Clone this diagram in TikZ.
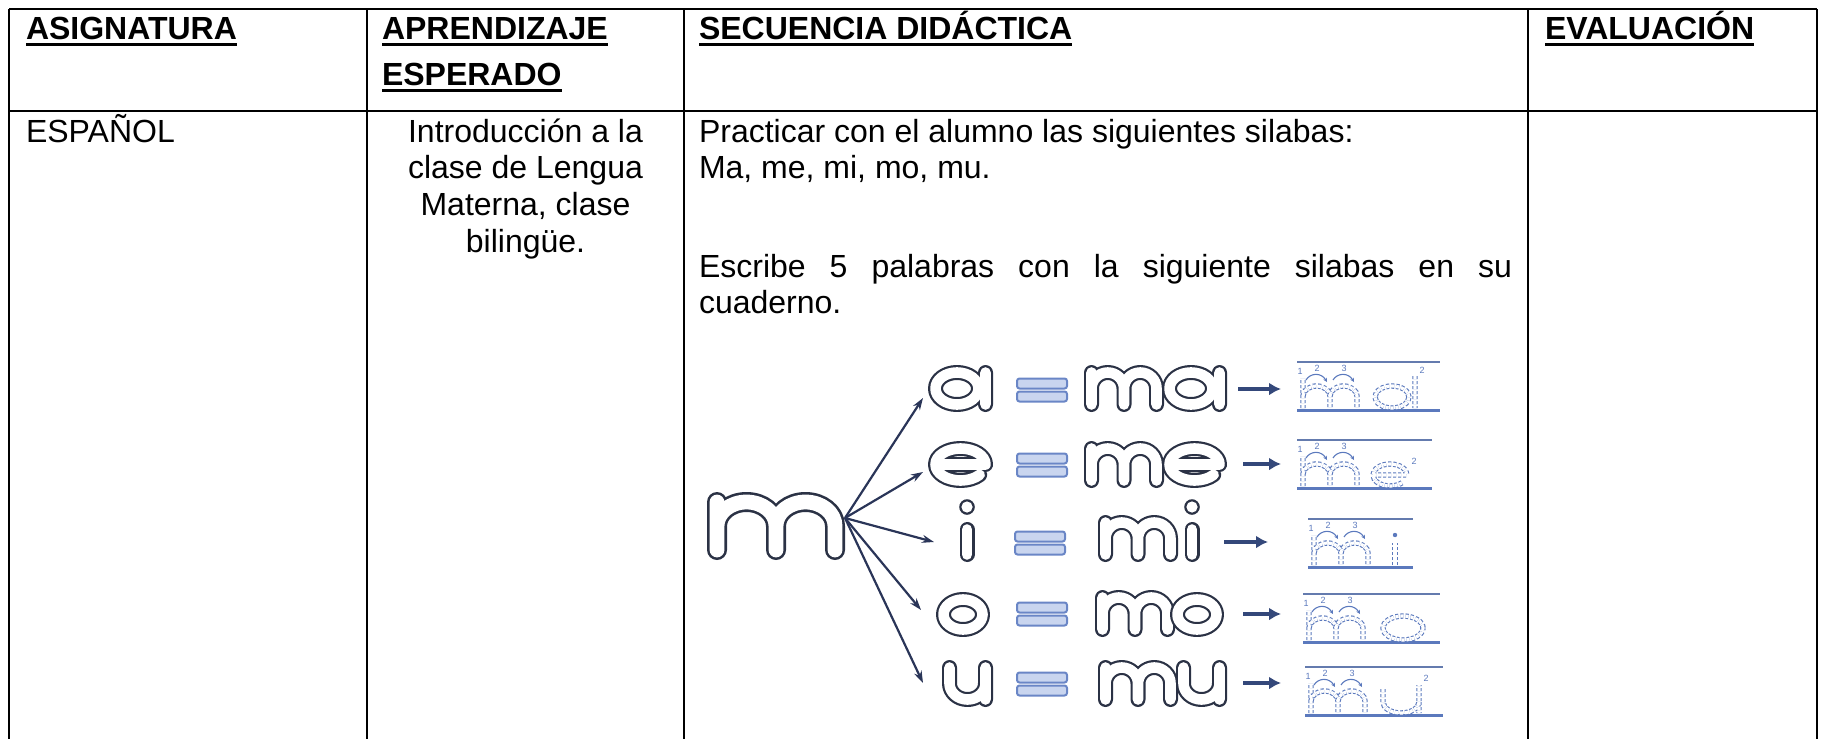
\documentclass[tikz,border=0pt]{standalone}
\usepackage{fontspec}
\setmainfont{Liberation Sans}
\usetikzlibrary{arrows.meta}
\definecolor{letterline}{HTML}{2B3245}
\definecolor{eqline}{HTML}{6A86C6}
\definecolor{eqfill}{HTML}{C9D5EF}
\definecolor{arrowc}{HTML}{2A3558}
\definecolor{rowarrow}{HTML}{34487A}
\definecolor{traceblue}{HTML}{5B79BD}
\tikzset{
 txt/.style={font=\fontsize{32}{36.8}\selectfont, inner sep=0pt, outer sep=0pt, anchor=base west},
 hd/.style={txt, font=\fontsize{32}{36.8}\selectfont\bfseries},
 ctr/.style={txt, anchor=base},
 tline/.style={line width=2.8pt, black},
 uline/.style={line width=3pt, black},
 bubsmall/.style={draw=letterline, line width=2.2pt, double=white, double distance=10.6pt, line cap=round, line join=round},
 bubbig/.style={draw=letterline, line width=2.6pt, double=white, double distance=14.8pt, line cap=round, line join=round},
 bubstroke/.style={bubsmall},
 marrow/.style={draw=arrowc, line width=2.2pt, -{Stealth[length=12pt,width=8pt]}},
 rarrow/.style={draw=rowarrow, line width=4pt, -{Latex[length=12pt,width=13pt]}},
 eqbar/.style={draw=eqline, fill=eqfill, line width=2pt, rounded corners=2.5pt},
 tracedash/.style={draw=traceblue, dash pattern=on 3pt off 2pt, line width=1.1pt, double=white, double distance=3.2pt},
 tracerule/.style={draw=traceblue, line width=3pt},
 tracetop/.style={draw=traceblue!75!gray, line width=2pt},
 tracearr/.style={draw=traceblue, line width=1.1pt, -{Stealth[length=4pt,width=4pt]}},
 tnum/.style={font=\fontsize{9}{9}\selectfont, text=traceblue, inner sep=0pt},
 pa/.pic={\begin{scope}[yscale=-1]\draw[bubstroke] (29,23.5) ellipse[x radius=21.5,y radius=16] (57.5,39.5) -- (57.5,7.5);\end{scope}},
 pe/.pic={\begin{scope}[yscale=-1]\draw[bubstroke] (7.5,23.5) -- (57.5,23.5) arc[start angle=0,end angle=320,x radius=25,y radius=16];\end{scope}},
 pi/.pic={\begin{scope}[yscale=-1]\draw[bubstroke] (12,7.5) -- (12,32.5); \draw[bubstroke] (12,55) circle[radius=0.3];\end{scope}},
 po/.pic={\begin{scope}[yscale=-1]\draw[bubstroke] (27,22.5) ellipse[x radius=19.5,y radius=15];\end{scope}},
 pu/.pic={\begin{scope}[yscale=-1]\draw[bubstroke] (7.5,39.5) -- (7.5,23.5) arc[start angle=180,end angle=360,x radius=18,y radius=16] -- (43.5,39.5) (43.5,23.5) -- (43.5,7.5);\end{scope}},
 pm/.pic={\begin{scope}[yscale=-1]\draw[bubstroke] (7.5,39.5) -- (7.5,7.5) (7.5,23.5) arc[start angle=180,end angle=0,x radius=16.25,y radius=16] -- (40,7.5) (40,23.5) arc[start angle=180,end angle=0,x radius=16.25,y radius=16] -- (72.5,7.5);\end{scope}},
 pbigm/.pic={\begin{scope}[yscale=-1]\draw[bubstroke] (10,58) -- (10,10) (10,34) arc[start angle=180,end angle=0,x radius=29.5,y radius=24] -- (69,10) (69,34) arc[start angle=180,end angle=0,x radius=29.5,y radius=24] -- (128,10);\end{scope}},
 eqs/.pic={\draw[eqbar] (0,-11.5) rectangle (50,-1.5); \draw[eqbar] (0,1.5) rectangle (50,11.5);},
}
\newcommand{\trMpart}{%
 \draw[tracedash] (6,2) -- (6,32) (6,14) arc[start angle=180,end angle=0,x radius=13.5,y radius=10] -- (33,2) (33,14) arc[start angle=180,end angle=0,x radius=13.5,y radius=10] -- (60,2);
 \draw[tracearr] (9,30) .. controls (13,37) and (24,38) .. (30,28);
 \draw[tracearr] (36,30) .. controls (40,37) and (51,38) .. (57,28);
 \node[tnum] (n1) at (3,39) {1};
 \node[tnum] (n2) at (20,42) {2};
 \node[tnum] (n3) at (47,42) {3};
}
\tikzset{
 trma/.pic={\begin{scope}[yscale=-1]\draw[tracetop] (0,48) -- (143,48); \draw[tracerule] (0,0) -- (143,0); \trMpart \draw[tracedash] (95,13) ellipse[x radius=17,y radius=11] (118,34) -- (118,2); \node[tnum] (n4) at (125,40) {2};\end{scope}},
 trme/.pic={\begin{scope}[yscale=-1]\draw[tracetop] (0,48) -- (135,48); \draw[tracerule] (0,0) -- (135,0); \trMpart \draw[tracedash] (76,13) -- (110,13) arc[start angle=0,end angle=320,x radius=17,y radius=11]; \node[tnum] (n4) at (117,27) {2};\end{scope}},
 trmi/.pic={\begin{scope}[yscale=-1]\draw[tracetop] (0,48) -- (105,48); \draw[tracerule] (0,0) -- (105,0); \trMpart \draw[tracedash] (87,2) -- (87,24); \fill[traceblue] (87,32) circle[radius=2.2];\end{scope}},
 trmo/.pic={\begin{scope}[yscale=-1]\draw[tracetop] (0,48) -- (137,48); \draw[tracerule] (0,0) -- (137,0); \trMpart \draw[tracedash] (100,14) ellipse[x radius=20,y radius=12];\end{scope}},
 trmu/.pic={\begin{scope}[yscale=-1]\draw[tracetop] (0,48) -- (138,48); \draw[tracerule] (0,0) -- (138,0); \trMpart \draw[tracedash] (78,26) -- (78,13) arc[start angle=180,end angle=360,x radius=18,y radius=11] -- (114,30) (114,13) -- (114,2); \node[tnum] (n4) at (121,37) {2};\end{scope}},
}
\begin{document}
\begin{tikzpicture}[x=1pt,y=-1pt]
\useasboundingbox (0,0) rectangle (1825,739);
% table rules
\draw[tline] (9,9) -- (1817,9);
\draw[tline] (9,111) -- (1817,111);
\draw[tline] (9,9) -- (9,739);
\draw[tline] (367,9) -- (367,739);
\draw[tline] (684,9) -- (684,739);
\draw[tline] (1528,9) -- (1528,739);
\draw[tline] (1817,9) -- (1817,739);
% headers
\node[hd] (h1) at (26,39) {ASIGNATURA};
\node[hd] (h2a) at (382,39) {APRENDIZAJE};
\node[hd] (h2b) at (382,85) {ESPERADO};
\node[hd] (h3) at (699,39) {SECUENCIA DIDÁCTICA};
\node[hd] (h4) at (1545,39) {EVALUACIÓN};
\foreach \n in {h1,h2a,h2b,h3,h4}{\draw[uline] ([yshift=-5pt]\n.base west) -- ([yshift=-5pt]\n.base east);}
% body
\node[txt] (b1) at (26,142) {ESPAÑOL};
\node[ctr] (c2a) at (525.5,142) {Introducción a la};
\node[ctr] (c2b) at (525.5,178.8) {clase de Lengua};
\node[ctr] (c2c) at (525.5,215.6) {Materna, clase};
\node[ctr] (c2d) at (525.5,252.4) {bilingüe.};
\node[txt] (c3a) at (699,142) {Practicar con el alumno las siguientes silabas:};
\node[txt] (c3b) at (699,178.8) {Ma, me, mi, mo, mu.};
\node[txt] (c3c) at (699,277) {\makebox[813pt][s]{Escribe 5 palabras con la siguiente silabas en su}};
\node[txt] (c3d) at (699,313.8) {cuaderno.};
% big m
\pic[bubstroke/.style=bubbig] (bigm) at (707,560) {pbigm};
% vowels
\pic (va) at (928,412) {pa};
\pic (ve) at (928,488) {pe};
\pic (vi) at (955,562) {pi};
\pic (vo) at (936,637) {po};
\pic (vu) at (942,707) {pu};
% arrows from m
\coordinate (mo) at (845,518);
\coordinate (ta) at (923,398);
\coordinate (te) at (923,472);
\coordinate (ti) at (934,542);
\coordinate (to) at (921,610);
\coordinate (tu) at (923,683);
\foreach \t in {ta,te,ti,to,tu}{\draw[marrow] (mo) -- (\t);}
% equals
\pic (ea) at (1017,390) {eqs};
\pic (ee) at (1017,465) {eqs};
\pic (ei) at (1015,543) {eqs};
\pic (eo) at (1017,614) {eqs};
\pic (eu) at (1017,684) {eqs};
% syllables
\pic (sma1) at (1084,412) {pm};
\pic (sma2) at (1162,412) {pa};
\pic (sme1) at (1084,488) {pm};
\pic (sme2) at (1162,488) {pe};
\pic (smi1) at (1098,562) {pm};
\pic (smi2) at (1180,562) {pi};
\pic (smo1) at (1095,637) {pm};
\pic (smo2) at (1170,637) {po};
\pic (smu1) at (1098,707) {pm};
\pic (smu2) at (1176,707) {pu};
% row arrows
\coordinate (ra1) at (1238,389); \coordinate (ra2) at (1281,389);
\coordinate (re1) at (1243,464); \coordinate (re2) at (1281,464);
\coordinate (ri1) at (1224,542); \coordinate (ri2) at (1268,542);
\coordinate (ro1) at (1243,614); \coordinate (ro2) at (1281,614);
\coordinate (ru1) at (1243,683); \coordinate (ru2) at (1281,683);
\draw[rarrow] (ra1) -- (ra2);
\draw[rarrow] (re1) -- (re2);
\draw[rarrow] (ri1) -- (ri2);
\draw[rarrow] (ro1) -- (ro2);
\draw[rarrow] (ru1) -- (ru2);
% tracings
\pic (tra) at (1297,410) {trma};
\pic (tre) at (1297,488) {trme};
\pic (tri) at (1308,567) {trmi};
\pic (tro) at (1303,642) {trmo};
\pic (tru) at (1305,715) {trmu};
\end{tikzpicture}
\end{document}
